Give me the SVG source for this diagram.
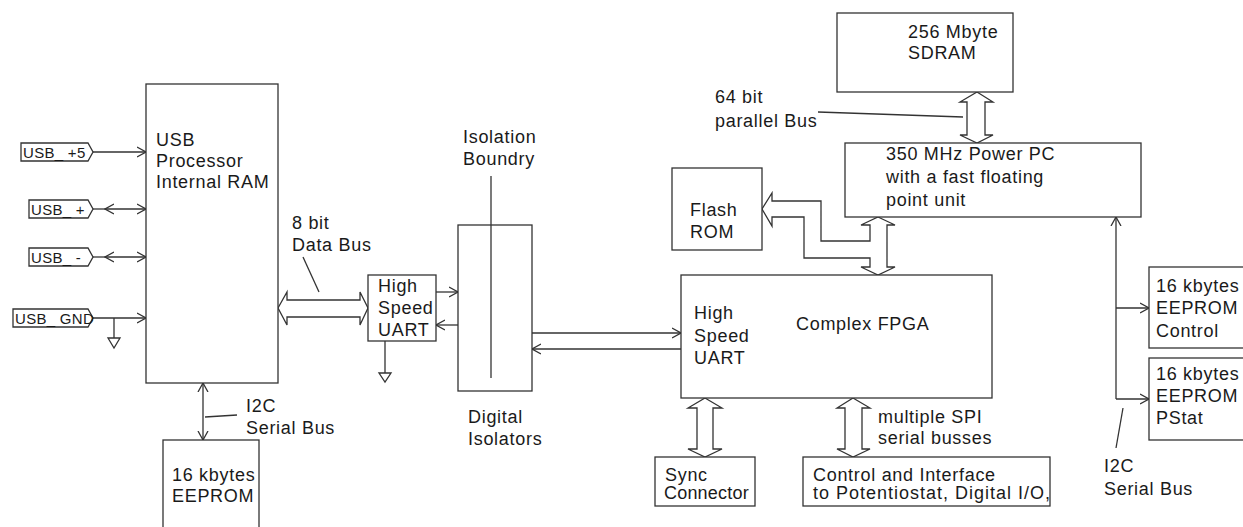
<svg xmlns="http://www.w3.org/2000/svg" width="1243" height="527" viewBox="0 0 1243 527">
<style>
.box{fill:#fff;stroke:#333;stroke-width:1.3}
.ln{fill:none;stroke:#333;stroke-width:1.3}
.bus{fill:#fff;stroke:#333;stroke-width:1.3;stroke-linejoin:miter}
.t{font-family:"Liberation Sans",Arial,sans-serif;font-size:18px;letter-spacing:0.7px;fill:#1a1a1a}
.s{font-family:"Liberation Sans",Arial,sans-serif;font-size:15px;letter-spacing:0.3px;fill:#1a1a1a}
</style>
<defs>
<marker id="ah" viewBox="0 -6 10 12" markerWidth="10" markerHeight="12" refX="9" refY="0" orient="auto-start-reverse" markerUnits="userSpaceOnUse">
<path d="M0,-5 L9,0 L0,5" fill="none" stroke="#333" stroke-width="1.3"/>
</marker>
</defs>
<rect width="1243" height="527" fill="#fff"/>

<g id="connectors">
<line class="ln" x1="93" y1="152" x2="146" y2="152" marker-end="url(#ah)"/>
<line class="ln" x1="93" y1="209" x2="105" y2="209"/>
<line class="ln" x1="105" y1="209" x2="146" y2="209" marker-start="url(#ah)" marker-end="url(#ah)"/>
<line class="ln" x1="93" y1="257" x2="105" y2="257"/>
<line class="ln" x1="105" y1="257" x2="146" y2="257" marker-start="url(#ah)" marker-end="url(#ah)"/>
<line class="ln" x1="93" y1="318" x2="146" y2="318" marker-end="url(#ah)"/>
<path class="ln" d="M114,318 V338 M108,338 H120 L114,348 Z"/>
<polygon class="bus" points="278,308 287,292 287,300 360,300 360,292 368,308 360,325 360,317 287,317 287,325"/>
<line class="ln" x1="303" y1="257" x2="319" y2="292"/>
<path class="ln" d="M385,341 V373 M379,373 H391 L385,382 Z"/>
<line class="ln" x1="436" y1="292" x2="458" y2="292" marker-end="url(#ah)"/>
<line class="ln" x1="458" y1="325" x2="436" y2="325" marker-end="url(#ah)"/>
<line class="ln" x1="532" y1="333" x2="681" y2="333" marker-end="url(#ah)"/>
<line class="ln" x1="681" y1="349" x2="532" y2="349" marker-end="url(#ah)"/>
<line class="ln" x1="203" y1="383" x2="203" y2="440" marker-start="url(#ah)" marker-end="url(#ah)"/>
<line class="ln" x1="205" y1="417" x2="237" y2="415"/>
<polygon class="bus" points="977,92 993,102 985,102 985,135 993,135 977,143 960,135 967,135 967,102 960,102"/>
<line class="ln" x1="818" y1="112" x2="963" y2="117"/>
<polygon class="bus" points="878,217 895,225 887,225 887,267 895,267 878,275 861,267 870,267 870,258 804,258 804,217 772,217 772,226 762,209 772,193 772,201 821,201 821,241 870,241 870,225 861,225"/>
<polygon class="bus" points="705,398 722,408 713,408 713,449 722,449 705,457 688,449 697,449 697,408 688,408"/>
<polygon class="bus" points="853,398 870,408 862,408 862,449 870,449 853,457 837,449 845,449 845,408 837,408"/>
<line class="ln" x1="1116" y1="399" x2="1116" y2="217" marker-end="url(#ah)"/>
<line class="ln" x1="1116" y1="308" x2="1149" y2="308" marker-end="url(#ah)"/>
<line class="ln" x1="1116" y1="399" x2="1149" y2="399" marker-end="url(#ah)"/>
<line class="ln" x1="1123" y1="408" x2="1116" y2="448"/>
</g>

<g id="usb_p5"><path class="box" d="M21,143 H88 L93,152 L88,161 H21 Z"/><text class="s" x="23" y="158">USB_ +5</text></g>
<g id="usb_plus"><path class="box" d="M29,200 H88 L93,209 L88,218 H29 Z"/><text class="s" x="31" y="215">USB_ +</text></g>
<g id="usb_minus"><path class="box" d="M29,248 H88 L93,257 L88,266 H29 Z"/><text class="s" x="31" y="263">USB_ -</text></g>
<g id="usb_gnd"><path class="box" d="M13,309 H88 L93,318 L88,327 H13 Z"/><text class="s" x="15" y="324">USB_ GND</text></g>

<g id="usb_proc">
<rect class="box" x="146" y="84" width="132" height="299"/>
<text class="t" x="156" y="146">USB</text>
<text class="t" x="156" y="167">Processor</text>
<text class="t" x="156" y="188">Internal RAM</text>
</g>

<g id="databus_label"><text class="t" x="292" y="229">8 bit</text><text class="t" x="292" y="251">Data Bus</text></g>

<g id="uart">
<rect class="box" x="368" y="275" width="68" height="66"/>
<text class="t" x="378" y="292">High</text>
<text class="t" x="378" y="314">Speed</text>
<text class="t" x="378" y="336">UART</text>
</g>

<g id="isolators">
<rect class="box" x="458" y="225" width="74" height="166"/>
<line class="ln" x1="491" y1="176" x2="491" y2="378"/>
<text class="t" x="463" y="143">Isolation</text>
<text class="t" x="463" y="165">Boundry</text>
<text class="t" x="468" y="423">Digital</text>
<text class="t" x="468" y="445">Isolators</text>
</g>

<g id="i2c_left_label"><text class="t" x="246" y="412">I2C</text><text class="t" x="246" y="434">Serial Bus</text></g>

<g id="eeprom_left">
<rect class="box" x="163" y="440" width="96" height="100"/>
<text class="t" x="172" y="481">16 kbytes</text>
<text class="t" x="172" y="502">EEPROM</text>
</g>

<g id="sdram">
<rect class="box" x="837" y="13" width="176" height="79"/>
<text class="t" x="908" y="38">256 Mbyte</text>
<text class="t" x="908" y="59">SDRAM</text>
</g>

<g id="parallel_label"><text class="t" x="715" y="103">64 bit</text><text class="t" x="715" y="127">parallel Bus</text></g>

<g id="ppc">
<rect class="box" x="845" y="143" width="296" height="74"/>
<text class="t" x="886" y="160">350 MHz Power PC</text>
<text class="t" x="886" y="183">with a fast floating</text>
<text class="t" x="886" y="206">point unit</text>
</g>

<g id="flash">
<rect class="box" x="672" y="168" width="90" height="82"/>
<text class="t" x="690" y="216">Flash</text>
<text class="t" x="690" y="238">ROM</text>
</g>

<g id="fpga">
<rect class="box" x="681" y="275" width="311" height="123"/>
<text class="t" x="694" y="319">High</text>
<text class="t" x="694" y="342">Speed</text>
<text class="t" x="694" y="364">UART</text>
<text class="t" x="796" y="330">Complex FPGA</text>
</g>

<g id="sync">
<rect class="box" x="655" y="457" width="100" height="49"/>
<text class="t" x="665" y="481">Sync</text>
<text class="t" x="664" y="499" style="letter-spacing:0.2px">Connector</text>
</g>

<g id="spi_label"><text class="t" x="878" y="423">multiple SPI</text><text class="t" x="878" y="444">serial busses</text></g>

<g id="control">
<rect class="box" x="803" y="457" width="247" height="49"/>
<text class="t" x="813" y="481">Control and Interface</text>
<text class="t" x="813" y="499" style="letter-spacing:1px">to Potentiostat, Digital I/O,</text>
</g>

<g id="eeprom_control">
<rect class="box" x="1149" y="267" width="100" height="81"/>
<text class="t" x="1156" y="292">16 kbytes</text>
<text class="t" x="1156" y="314">EEPROM</text>
<text class="t" x="1156" y="337">Control</text>
</g>

<g id="eeprom_pstat">
<rect class="box" x="1149" y="358" width="100" height="82"/>
<text class="t" x="1156" y="380">16 kbytes</text>
<text class="t" x="1156" y="402">EEPROM</text>
<text class="t" x="1156" y="424">PStat</text>
</g>

<g id="i2c_right_label"><text class="t" x="1104" y="472">I2C</text><text class="t" x="1104" y="495">Serial Bus</text></g>
</svg>
